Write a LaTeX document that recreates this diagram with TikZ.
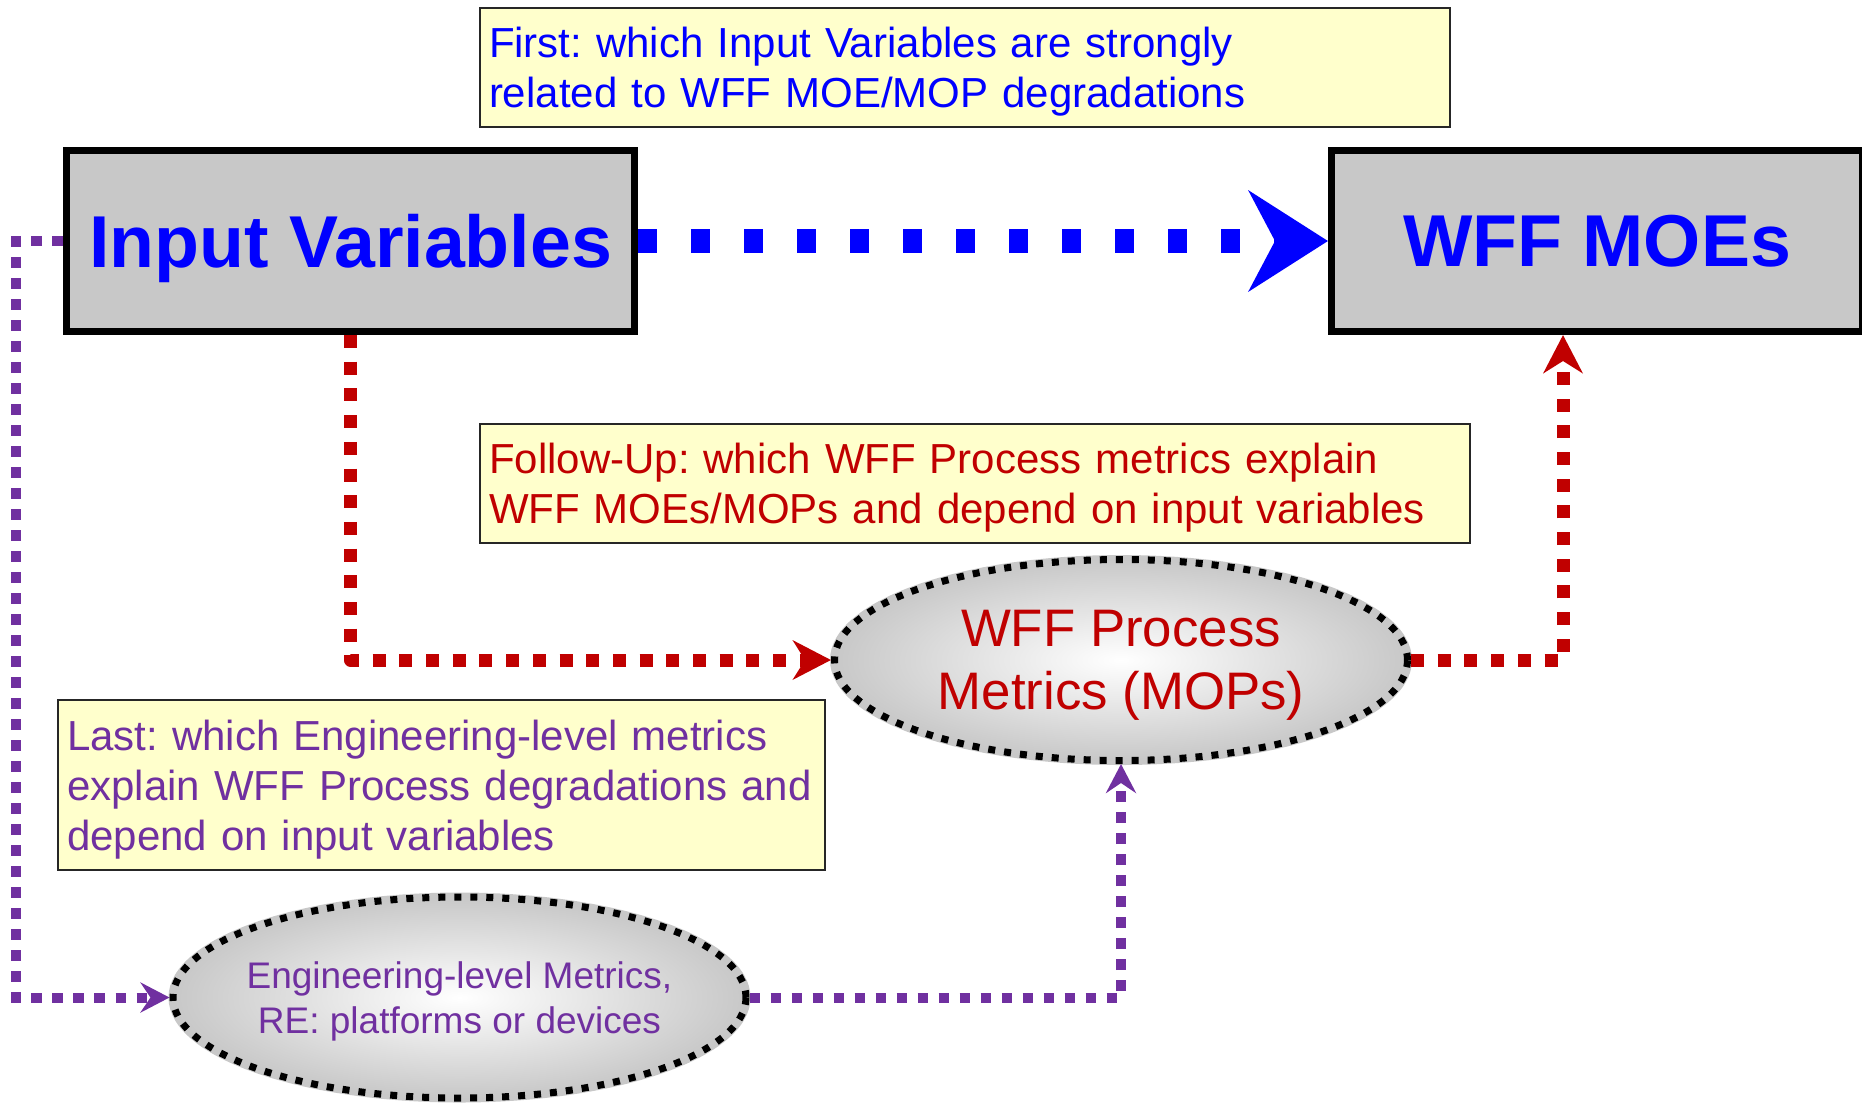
\documentclass[tikz,border=0pt]{standalone}
\usepackage{fontspec}
\setmainfont{Liberation Sans}
\frenchspacing
\usetikzlibrary{shapes.geometric,arrows.meta}
\definecolor{ivblue}{HTML}{0000FF}
\definecolor{mopred}{HTML}{C00000}
\definecolor{engpurple}{HTML}{7030A0}
\definecolor{boxgray}{HTML}{C8C8C8}
\definecolor{noteyellow}{HTML}{FFFFCC}

\begin{document}
\begin{tikzpicture}[x=0.5pt,y=-0.5pt,
		mainbox/.style={draw,line width=3.5pt,fill=boxgray,text=ivblue,
			font=\fontsize{36.75pt}{44pt}\selectfont\bfseries,text depth=0pt,
			minimum width=#1,minimum height=90.5pt,inner sep=0pt},
		notebox/.style={draw=black!85,line width=1pt,fill=noteyellow,anchor=north west,
			align=left,inner xsep=4.5pt,font=\fontsize{21pt}{25pt}\selectfont},
		metric/.style={ellipse,draw=black,line width=3.5pt,dash pattern=on 3.5pt off 4.5pt,
			inner color=white,outer color=boxgray,preaction={draw=boxgray,solid,line width=4.5pt},
			minimum width=286.5pt,minimum height=100.5pt,inner xsep=-10pt,inner ysep=0pt,
			text depth=0pt,align=center},
		flowfirst/.style={draw=ivblue,line width=12pt,dash pattern=on 9.5pt off 17pt,
			-{Stealth[length=39.5pt,width=50pt,inset=13pt]}},
		flowfollow/.style={draw=mopred,line width=6.5pt,dash pattern=on 6.5pt off 6.85pt,line join=round,
			-{Stealth[length=19pt,width=19.5pt,inset=6pt]}},
		flowlast/.style={draw=engpurple,line width=5pt,dash pattern=on 5.3pt off 5.2pt,
			-{Stealth[length=14.5pt,width=15pt,inset=5pt]}}]
	\useasboundingbox (0,0) rectangle (1862,1105);

	% question boxes
	\node[notebox,text width=476pt,minimum height=59.5pt,text depth=25pt,text=ivblue] (first) at (479,7)
		{First: which Input Variables are strongly\\related to WFF MOE/MOP degradations};
	\node[notebox,text width=486pt,minimum height=59.5pt,text depth=25pt,text=mopred] (follow) at (479,423)
		{Follow-Up: which WFF Process metrics explain\\WFF MOEs/MOPs and depend on input variables};
	\node[notebox,text width=374.5pt,minimum height=85pt,text depth=50pt,text=engpurple] (last) at (57,699)
		{Last: which Engineering-level metrics\\explain WFF Process degradations and\\depend on input variables};

	% main boxes and metric ellipses
	\node[mainbox=284pt] (iv) at (350.5,241) {Input Variables};
	\node[mainbox=265.5pt] (moe) at (1597,241) {WFF MOEs};
	\node[metric,text=mopred,font=\fontsize{26.4pt}{31.5pt}\selectfont] (wpm) at (1121,660)
		{WFF Process\\Metrics (MOPs)};
	\node[metric,text=engpurple,font=\fontsize{18.5pt}{22.5pt}\selectfont] (eng) at (459.5,997.5)
		{Engineering-level Metrics,\\RE: platforms or devices};

	\coordinate (ivleft) at (16,241);
	\coordinate (redup) at (1563,660);

	\draw[flowfirst] (iv.east) -- (moe.west);
	\draw[flowfollow] (iv.south) |- (wpm.west);
	\draw[flowfollow] (wpm.east) -- (redup) -- (redup |- moe.south);
	\draw[flowlast] (iv.west) -- (ivleft) |- (eng.west);
	\draw[flowlast] (eng.east) -| (wpm.south);
\end{tikzpicture}
\end{document}
